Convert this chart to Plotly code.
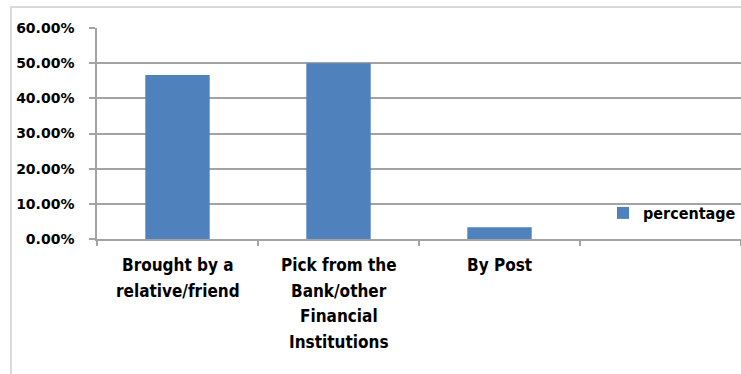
import plotly.graph_objects as go

# Delivery channel shares
categories = [
    "Brought by a\nrelative/friend",
    "Pick from the\nBank/other\nFinancial\nInstitutions",
    "By Post",
]
percentage = [0.4667, 0.50, 0.0333]
y_ticks = [0, 0.1, 0.2, 0.3, 0.4, 0.5, 0.6]

W, H = 741, 374
L, R, T, B = 97, 0, 28, 135
pw, ph = W - L - R, H - T - B

grid = "#a3a3a3"
bar_color = "#4f81bd"
label_font = dict(family="DejaVu Sans Condensed", size=17, color="black", weight="bold")

fig = go.Figure()
fig.add_trace(go.Bar(
    x=list(range(len(categories))),
    y=percentage,
    name="percentage",
    marker=dict(color=bar_color, line=dict(width=0)),
    width=0.4,
))

# Category labels, one line at a time for wider line spacing
annotations = []
for i, cat in enumerate(categories):
    for k, line in enumerate(cat.split("\n")):
        annotations.append(dict(
            x=i, xref="x", y=0, yref="y",
            xanchor="center", yanchor="top",
            yshift=-(14 + k * 25.7),
            text=line, showarrow=False,
            font=label_font,
        ))

fig.update_layout(
    width=W, height=H,
    margin=dict(l=L, r=R, t=T, b=B),
    paper_bgcolor="white",
    plot_bgcolor="white",
    showlegend=True,
    legend=dict(
        x=1, y=(H - B - 213) / ph,
        xanchor="right", yanchor="middle",
        font=dict(family="DejaVu Sans Condensed", size=16, color="black", weight="bold"),
        bgcolor="rgba(0,0,0,0)",
        itemwidth=30,
    ),
    xaxis=dict(
        range=[-0.5, 3.5],
        tickmode="array",
        tickvals=list(range(len(categories))),
        showticklabels=False,
        ticks="",
        showgrid=False,
        zeroline=False,
        showline=True,
        linecolor=grid,
        linewidth=1.5,
        minor=dict(
            tickmode="array",
            tickvals=[-0.5, 0.5, 1.5, 2.5, 3.5],
            ticks="outside",
            ticklen=5,
            tickcolor=grid,
            tickwidth=1.5,
            showgrid=False,
        ),
    ),
    yaxis=dict(
        range=[0, 0.6],
        tickmode="array",
        tickvals=y_ticks,
        tickformat=".2%",
        showgrid=True,
        gridcolor=grid,
        gridwidth=1.5,
        zeroline=False,
        showline=True,
        linecolor=grid,
        linewidth=1.5,
        ticks="outside",
        ticklen=6,
        tickcolor=grid,
        tickwidth=1.5,
        tickfont=dict(family="DejaVu Sans", size=14, color="black", weight="bold"),
        ticklabelstandoff=12,
    ),
    annotations=annotations,
    shapes=[dict(
        type="rect", xref="paper", yref="paper",
        x0=(11 - L) / pw, x1=1.1,
        y0=-1.0, y1=1 + (T - 7) / ph,
        line=dict(color="#d9d9d9", width=2),
        fillcolor="rgba(0,0,0,0)",
        layer="below",
    )],
)

fig.write_html("out.html")
